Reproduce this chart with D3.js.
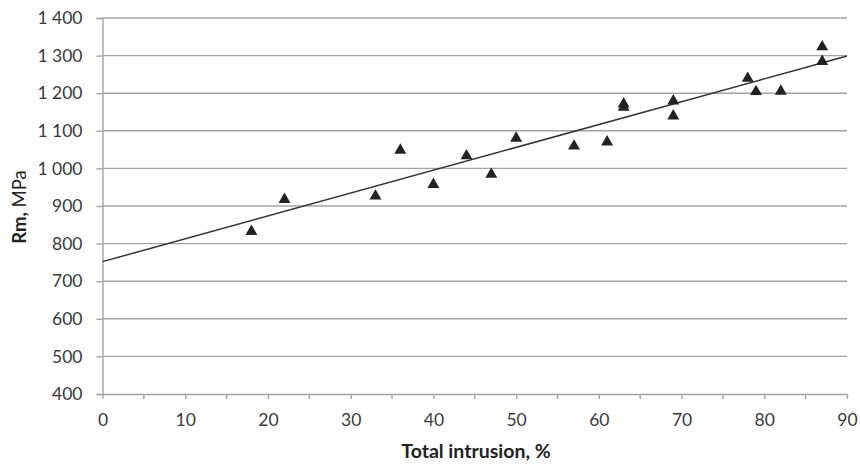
<!DOCTYPE html>
<html><head><meta charset="utf-8">
<script src="https://cdn.jsdelivr.net/npm/d3@7"></script>
<style>body{margin:0;background:#fff}svg{display:block}</style>
</head><body>
<svg id="c" width="860" height="465"></svg>
<script>
const intrusion = [18, 22, 33, 36, 40, 44, 47, 50, 57, 61, 63, 63, 69, 69, 78, 79, 82, 87, 87];
const rm        = [835, 920, 929, 1051, 960, 1036, 987, 1083, 1062, 1073, 1165, 1174, 1182, 1142, 1242, 1207, 1208, 1326, 1287];
const trendX = [0, 90];
const trendY = [752, 1299];
const yTicks = [400, 500, 600, 700, 800, 900, 1000, 1100, 1200, 1300, 1400];
const xTicks = [0, 10, 20, 30, 40, 50, 60, 70, 80, 90];
const xMinor = [5, 15, 25, 35, 45, 55, 65, 75, 85];

const svg = d3.select("#c");
const L = 102.5, R = 847, T = 18, B = 394;
const x = d3.scaleLinear().domain([0, 90]).range([L, R]);
const y = d3.scaleLinear().domain([400, 1400]).range([B, T]);
const font = "Lato, 'Open Sans', sans-serif";
const fmt = v => v >= 1000 ? Math.floor(v/1000) + " " + String(v % 1000).padStart(3, "0") : String(v);
const gridCol = "#a3a3a3";

// gridlines
svg.append("g").selectAll("line").data(yTicks.filter(v => v > 400)).join("line")
  .attr("x1", L).attr("x2", R).attr("y1", d => y(d)).attr("y2", d => y(d))
  .attr("stroke", gridCol).attr("stroke-width", 1.4);

// y axis
const ya = svg.append("g").attr("transform", `translate(${L},0)`)
  .call(d3.axisLeft(y).tickValues(yTicks).tickFormat(fmt).tickSize(6).tickPadding(14));
ya.select(".domain").attr("stroke", gridCol).attr("stroke-width", 1.4);
ya.selectAll(".tick line").attr("stroke", gridCol).attr("stroke-width", 1.4);
ya.selectAll("text").attr("font-family", font).attr("font-size", 17.5).attr("fill", "#3a3a3a");

// x axis
const xa = svg.append("g").attr("transform", `translate(0,${B})`)
  .call(d3.axisBottom(x).tickValues(xTicks).tickFormat(d3.format("d")).tickSizeInner(5).tickSizeOuter(0).tickPadding(15));
xa.select(".domain").attr("stroke", gridCol).attr("stroke-width", 1.4);
xa.selectAll(".tick line").attr("stroke", gridCol).attr("stroke-width", 1.4);
xa.selectAll("text").attr("font-family", font).attr("font-size", 17.5).attr("fill", "#3a3a3a");
svg.append("g").selectAll("line").data(xMinor).join("line")
  .attr("x1", d => x(d)).attr("x2", d => x(d)).attr("y1", B).attr("y2", B + 5)
  .attr("stroke", gridCol).attr("stroke-width", 1.4);

// trendline
svg.append("line")
  .attr("x1", x(trendX[0])).attr("y1", y(trendY[0]))
  .attr("x2", x(trendX[1])).attr("y2", y(trendY[1]))
  .attr("stroke", "#333").attr("stroke-width", 1.5);

// markers
const tri = d3.symbol().type(d3.symbolTriangle).size(62);
svg.append("g").selectAll("path").data(intrusion.map((v, i) => [v, rm[i]])).join("path")
  .attr("d", tri)
  .attr("transform", d => `translate(${x(d[0])},${y(d[1]) + 1})`)
  .attr("fill", "#222");

// axis titles
svg.append("text").attr("x", 476).attr("y", 458).attr("text-anchor", "middle")
  .attr("font-family", font).attr("font-size", 19.5).attr("font-weight", "bold").attr("fill", "#222")
  .text("Total intrusion, %");
const yt = svg.append("text").attr("transform", "translate(26,207) rotate(-90)").attr("text-anchor", "middle")
  .attr("font-family", font).attr("font-size", 18.5).attr("fill", "#222");
yt.append("tspan").attr("font-weight", "bold").text("Rm,");
yt.append("tspan").text(" MPa");
</script>
</body></html>
